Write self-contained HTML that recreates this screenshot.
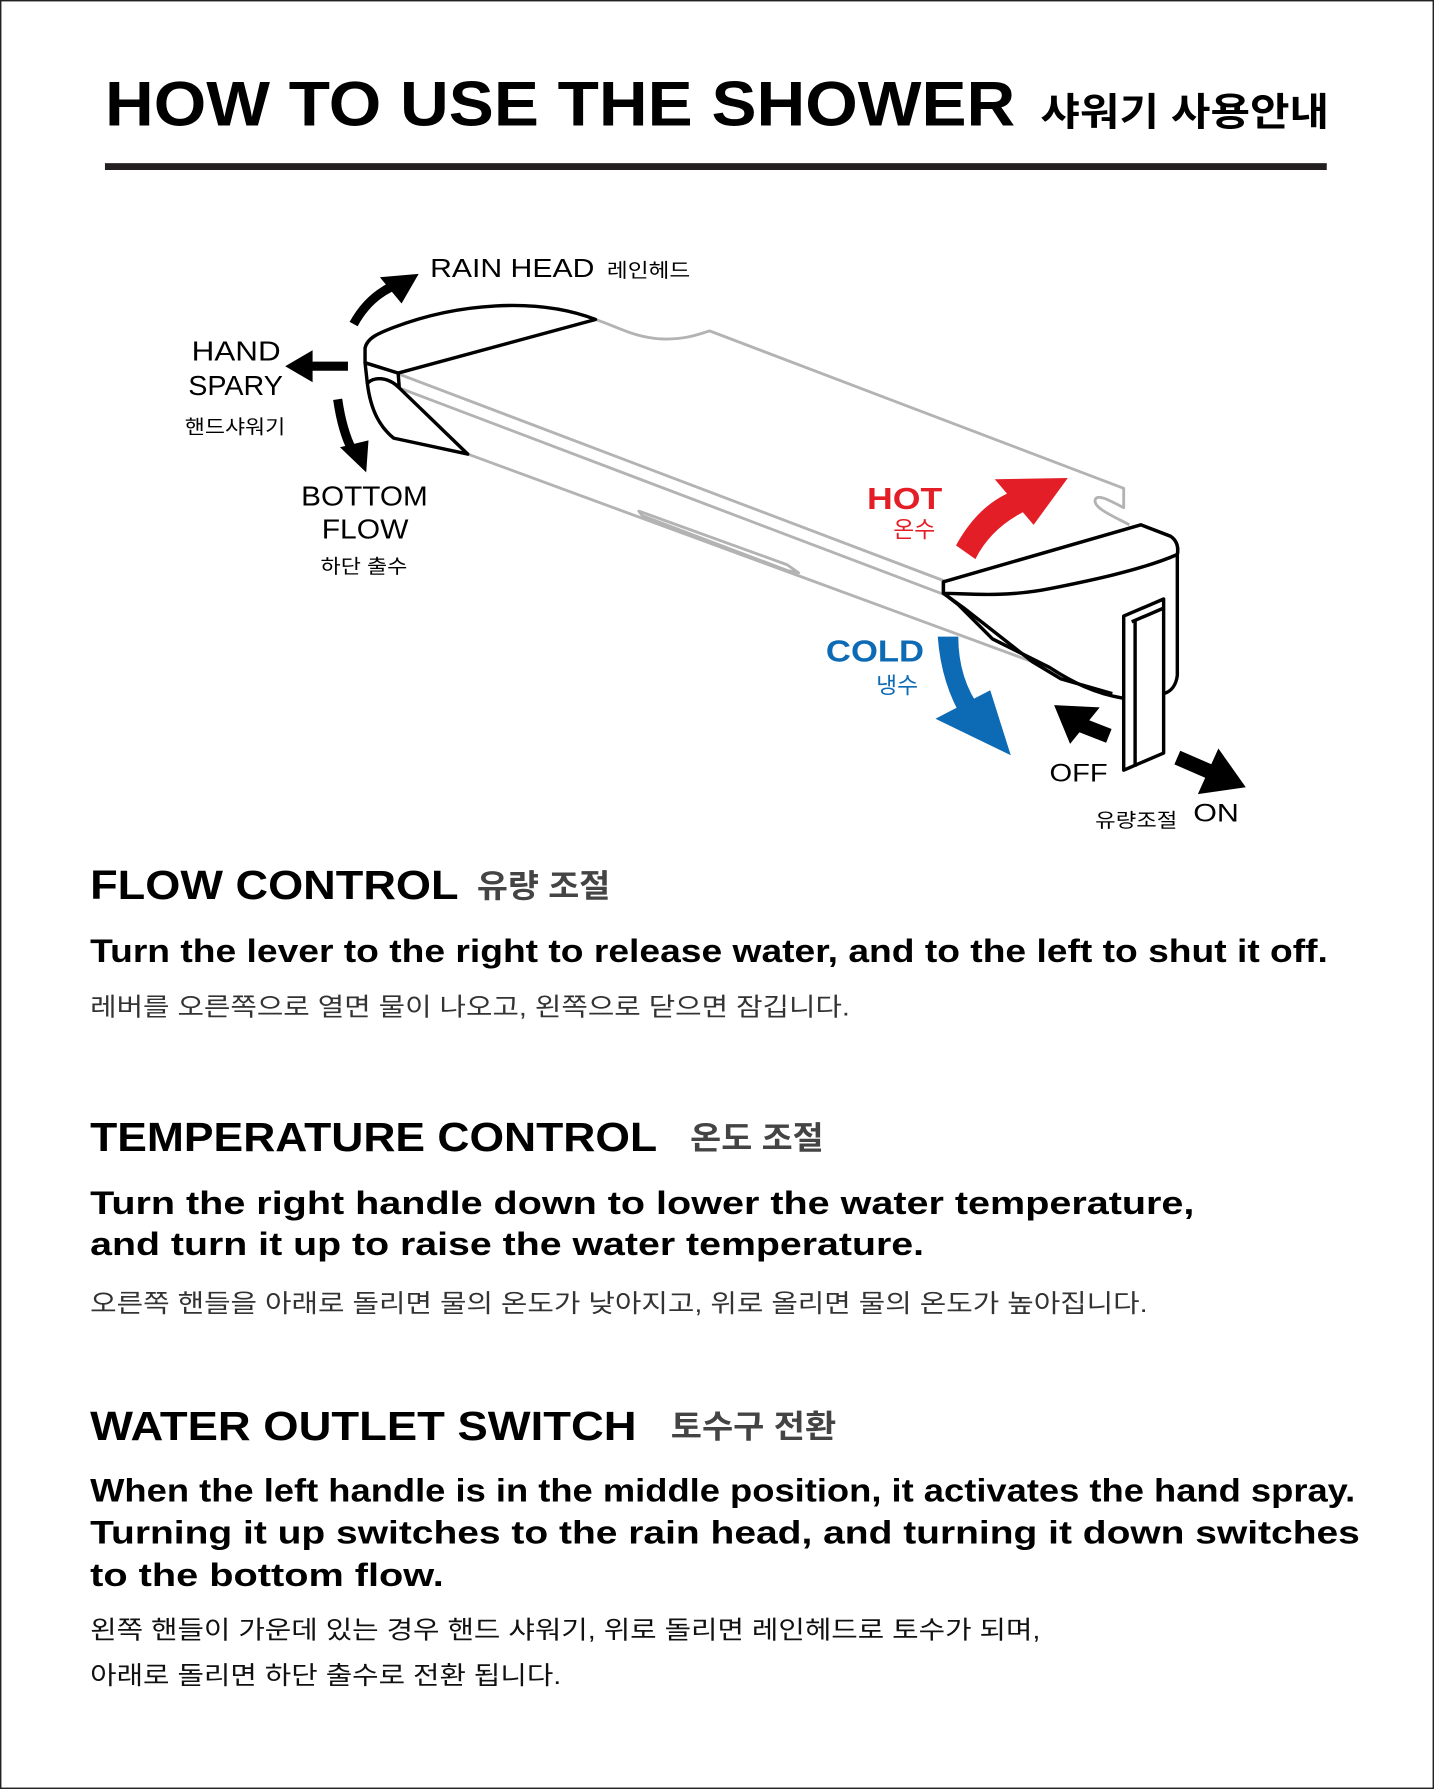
<!DOCTYPE html>
<html><head><meta charset="utf-8"><style>
html,body{margin:0;padding:0;background:#fff}
svg{display:block}
text{font-family:"Liberation Sans","Noto Sans CJK KR",sans-serif}
.b{font-weight:bold}
</style></head><body>
<svg width="1434" height="1789" viewBox="0 0 1257 1568" preserveAspectRatio="none" xmlns="http://www.w3.org/2000/svg">
<rect x="0.5" y="0.5" width="1256" height="1567" fill="#fff" stroke="#222" stroke-width="1.5"/>
<text x="92" y="110" class="b" font-size="55" textLength="798" lengthAdjust="spacingAndGlyphs">HOW TO USE THE SHOWER</text>
<text x="912" y="110" class="b" font-size="34" textLength="253" lengthAdjust="spacingAndGlyphs">샤워기 사용안내</text>
<rect x="92" y="143" width="1071" height="6" fill="#231f20"/>

<!-- body gray -->
<g fill="none" stroke="#b3b3b3" stroke-width="2.5" stroke-linejoin="round">
<path d="M522,280 C545,288 555,295 578,297 C598,298 610,294 622,290 L985,428 L985,445 C975,440 962,432 960,438 C958,445 975,452 990,460"/>
<path d="M350,328 L830,510"/>
<path d="M350,340 L830,522"/>
<path d="M410,398 L905,580"/>
<path d="M560,448 L690,495 L700,502 L690,500 L563,452 Z"/>
</g>
<!-- left cap -->
<g fill="#fff" stroke="#000" stroke-width="3" stroke-linejoin="round">
<path d="M320,305 C322,296 332,292 345,287 C400,266 470,260 522,280 L349,327 L320,318 Z"/>
<path d="M320,318 L349,327 L350,340 C340,330 328,330 322,336 Z"/>
<path d="M322,336 C325,360 333,374 345,384 L410,398 L350,340 C340,330 328,330 322,336 Z"/>
</g>
<!-- right cap -->
<g fill="#fff" stroke="#000" stroke-width="3" stroke-linejoin="round">
<path d="M1000,460 L1026,470 C1032,474 1033,480 1032,486 L1032,592 C1031,600 1027,606 1020,608 L985,612 C960,608 940,598 920,585 L870,560 L840,530 L827,520 L827,510 Z"/>
<path d="M827,510 L1000,460 L1026,470 C1032,474 1033,480 1032,486 C1000,500 950,510 920,516 C880,524 845,520 827,520 Z" />
<path d="M827,520 L845,533 L905,580 L930,595 L975,608" fill="none"/>
<path d="M985,540 L1020,525 L1020,660 L985,675 Z"/>
<path d="M992,545 L1020,533" fill="none"/>
<path d="M995,543 L995,672" fill="none"/>
</g>

<!-- black arrows left -->
<g stroke="#000" stroke-width="8" fill="none">
<path d="M310,284 Q322,262 342,252"/>
<path d="M305,321 L270,321"/>
<path d="M296,350 Q300,378 309,395"/>
</g>
<g fill="#000">
<polygon points="367,240 333,243 352,266"/>
<polygon points="250,321 274,307 274,335"/>
<polygon points="321,414 298,392 323,386"/>
</g>
<!-- hot -->
<path d="M838,478 Q860,438 895,428 L905,445 Q870,460 855,490 Z" fill="#e41e26"/>
<polygon points="936,419 872,420 906,460" fill="#e41e26"/>
<!-- cold -->
<path d="M822,558 L840,558 Q840,595 860,622 L845,632 Q825,600 822,558 Z" fill="#0d6ab4"/>
<polygon points="886,662 820,630 868,605" fill="#0d6ab4"/>
<!-- off/on -->
<path d="M944,634 L972,645" stroke="#000" stroke-width="13"/>
<polygon points="924,618 964,620 938,652" fill="#000"/>
<path d="M1032,664 L1062,677" stroke="#000" stroke-width="13"/>
<polygon points="1092,690 1050,696 1068,656" fill="#000"/>

<!-- diagram labels -->
<text x="377" y="243" font-size="23" textLength="144" lengthAdjust="spacingAndGlyphs">RAIN HEAD</text>
<text x="532" y="243" font-size="17" textLength="73" lengthAdjust="spacingAndGlyphs">레인헤드</text>
<text x="168" y="316" font-size="24" textLength="78" lengthAdjust="spacingAndGlyphs">HAND</text>
<text x="165" y="346" font-size="24" textLength="83" lengthAdjust="spacingAndGlyphs">SPARY</text>
<text x="162" y="380" font-size="17" textLength="88" lengthAdjust="spacingAndGlyphs">핸드샤워기</text>
<text x="264" y="443" font-size="24" textLength="111" lengthAdjust="spacingAndGlyphs">BOTTOM</text>
<text x="282" y="472" font-size="24" textLength="76" lengthAdjust="spacingAndGlyphs">FLOW</text>
<text x="281" y="502" font-size="17" textLength="76" lengthAdjust="spacingAndGlyphs">하단 출수</text>
<text x="760" y="446" class="b" font-size="27" fill="#e41e26" textLength="66" lengthAdjust="spacingAndGlyphs">HOT</text>
<text x="783" y="471" font-size="20" fill="#e41e26">온수</text>
<text x="724" y="580" class="b" font-size="27" fill="#0d6ab4" textLength="86" lengthAdjust="spacingAndGlyphs">COLD</text>
<text x="768" y="608" font-size="20" fill="#0d6ab4">냉수</text>
<text x="920" y="685" font-size="22" textLength="51" lengthAdjust="spacingAndGlyphs">OFF</text>
<text x="960" y="725" font-size="17" textLength="72" lengthAdjust="spacingAndGlyphs">유량조절</text>
<text x="1046" y="720" font-size="22" textLength="40" lengthAdjust="spacingAndGlyphs">ON</text>

<!-- sections -->
<text x="79" y="788" class="b" font-size="36" textLength="323" lengthAdjust="spacingAndGlyphs">FLOW CONTROL</text>
<text x="418" y="786" class="b" font-size="28" fill="#444" textLength="117" lengthAdjust="spacingAndGlyphs">유량 조절</text>
<text x="79" y="843" class="b" font-size="28" textLength="1085" lengthAdjust="spacingAndGlyphs">Turn the lever to the right to release water, and to the left to shut it off.</text>
<text x="79" y="890" font-size="22" fill="#333" textLength="666" lengthAdjust="spacingAndGlyphs">레버를 오른쪽으로 열면 물이 나오고, 왼쪽으로 닫으면 잠깁니다.</text>

<text x="79" y="1009" class="b" font-size="36" textLength="497" lengthAdjust="spacingAndGlyphs">TEMPERATURE CONTROL</text>
<text x="605" y="1007" class="b" font-size="28" fill="#444" textLength="117" lengthAdjust="spacingAndGlyphs">온도 조절</text>
<text x="79" y="1064" class="b" font-size="28" textLength="968" lengthAdjust="spacingAndGlyphs">Turn the right handle down to lower the water temperature,</text>
<text x="79" y="1100" class="b" font-size="28" textLength="731" lengthAdjust="spacingAndGlyphs">and turn it up to raise the water temperature.</text>
<text x="79" y="1150" font-size="22" fill="#333" textLength="927" lengthAdjust="spacingAndGlyphs">오른쪽 핸들을 아래로 돌리면 물의 온도가 낮아지고, 위로 올리면 물의 온도가 높아집니다.</text>

<text x="79" y="1262" class="b" font-size="36" textLength="479" lengthAdjust="spacingAndGlyphs">WATER OUTLET SWITCH</text>
<text x="588" y="1260" class="b" font-size="28" fill="#444" textLength="145" lengthAdjust="spacingAndGlyphs">토수구 전환</text>
<text x="79" y="1316" class="b" font-size="28" textLength="1109" lengthAdjust="spacingAndGlyphs">When the left handle is in the middle position, it activates the hand spray.</text>
<text x="79" y="1353" class="b" font-size="28" textLength="1113" lengthAdjust="spacingAndGlyphs">Turning it up switches to the rain head, and turning it down switches</text>
<text x="79" y="1390" class="b" font-size="28" textLength="310" lengthAdjust="spacingAndGlyphs">to the bottom flow.</text>
<text x="79" y="1436" font-size="22" fill="#111" textLength="833" lengthAdjust="spacingAndGlyphs">왼쪽 핸들이 가운데 있는 경우 핸드 샤워기, 위로 돌리면 레인헤드로 토수가 되며,</text>
<text x="79" y="1476" font-size="22" fill="#111" textLength="413" lengthAdjust="spacingAndGlyphs">아래로 돌리면 하단 출수로 전환 됩니다.</text>
</svg>
</body></html>
